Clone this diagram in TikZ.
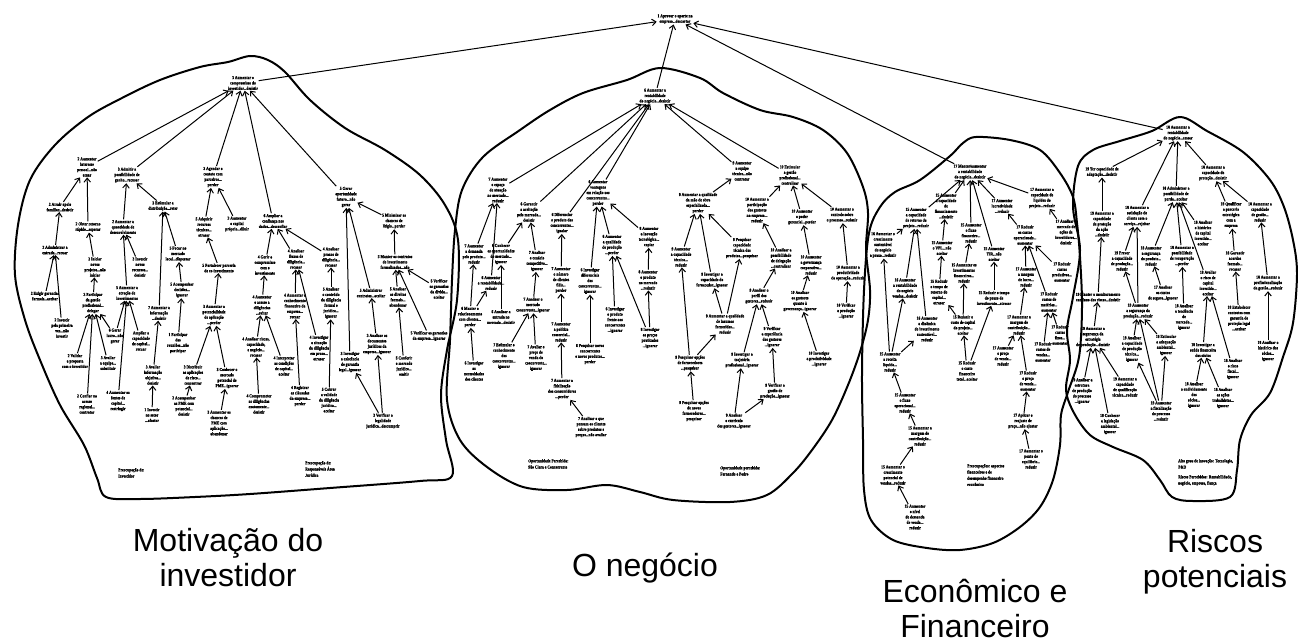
\documentclass[tikz,border=0pt]{standalone}
\usepackage{fontspec}
\setmainfont{Liberation Sans}
\newfontfamily\cptserif{Liberation Serif}[FakeStretch=0.82,FakeBold=1.2]
\usetikzlibrary{arrows.meta}
\tikzset{
  cpt/.style={font=\cptserif\bfseries\fontsize{4.5}{5.4}\selectfont, align=center, inner sep=0.6pt},
  note/.style={font=\cptserif\bfseries\fontsize{4.5}{6.2}\selectfont, align=left, inner sep=0pt, anchor=north west},
  lnk/.style={-{Straight Barb[length=4pt,width=6.5pt]}, line width=1pt},
  blob/.style={line width=2pt, line join=round},
  cat/.style={font=\fontsize{32}{35}\selectfont, align=center, inner sep=0pt, anchor=north}
}
\begin{document}
\begin{tikzpicture}[x=1pt,y=-1pt]
\useasboundingbox (0,0) rectangle (1298,639);
\fill[white] (0,0) rectangle (1298,639);

% ---------- cluster outlines ----------
\draw[blob] plot[smooth cycle, tension=0.55] coordinates {
 (250,56) (268,60) (285,72) (310,100) (345,128) (385,150) (420,175) (445,205) (458,240)
 (457,300) (447,350) (441,395) (446,440) (452,476) (420,481) (330,488) (250,494)
 (195,497) (140,499) (106,497) (97,478) (84,445) (60,405) (40,360) (25,320) (15,275)
 (18,225) (30,180) (55,145) (88,117) (122,98) (160,80) (200,67) (228,62)};
\draw[blob] plot[smooth cycle, tension=0.55] coordinates {
 (660,68) (700,78) (723,93) (760,110) (793,117) (823,130) (847,153) (863,187) (868,213)
 (866,250) (870,290) (868,320) (860,352) (848,385) (832,420) (812,450) (793,473)
 (767,495) (730,502) (673,500) (640,492) (607,485) (567,490) (523,487) (487,467)
 (460,440) (447,400) (450,340) (452,280) (455,230) (462,190) (483,157) (520,130)
 (550,110) (583,93) (627,80)};
\draw[blob] plot[smooth cycle, tension=0.55] coordinates {
 (976,137) (1010,140) (1040,150) (1060,173) (1073,197) (1077,223) (1080,257) (1082,307)
 (1079,357) (1068,392) (1061,415) (1060,445) (1053,480) (1040,507) (1020,527)
 (993,543) (960,550) (927,548) (893,540) (871,520) (864,490) (863,440) (862,373)
 (864,290) (869,233) (880,207) (895,192) (920,180) (950,156) (963,143)};
\draw[blob] plot[smooth cycle, tension=0.55] coordinates {
 (1180,117) (1207,131) (1243,152) (1270,180) (1284,207) (1293,240) (1297,273)
 (1293,323) (1283,357) (1270,393) (1251,415) (1240,440) (1237,470) (1230,497)
 (1193,501) (1172,497) (1160,480) (1143,460) (1113,447) (1090,435) (1074,413)
 (1066,390) (1070,360) (1067,330) (1073,297) (1080,250) (1073,207) (1078,166)
 (1093,150) (1120,141) (1152,131)};

% ---------- top concept ----------
\node[cpt] (top) at (675,19) {1 Aprovar o aporte na\\empresa...descartar};

% ---------- Motivação do investidor ----------
\node[cpt] (m0) at (243,83) {3 Aumentar o\\compromisso do\\investidor...desistir};
\node[cpt] (m2) at (87,167) {2 Aumentar\\interesse\\pessoal...não\\atuar};
\node[cpt] (m3) at (127,175) {3 Admitir a\\possibilidade de\\ganho...recusar};
\node[cpt] (m4) at (213,177) {3 Agendar o\\contato com\\parceiros...\\perder};
\node[cpt] (m6) at (273,221) {6 Ampliar a\\confiança nos\\dados...desconfiar};
\node[cpt] (m5) at (346,197) {5 Gerar\\oportunidade\\futura...não\\gerar};
\node[cpt] (m21) at (60,207) {2 Atrair apoio\\familiar...desistir};
\node[cpt] (m22) at (88,227) {2 Obter retorno\\rápido...esperar};
\node[cpt] (m23) at (55,250) {2 Administrar a\\entrada...recuar};
\node[cpt] (m24) at (45,296) {2 Exigir garantias\\formais...aceitar};
\node[cpt] (m25) at (62,328) {2 Investir\\pela primeira\\vez...não\\investir};
\node[cpt] (m26) at (95,267) {3 Iniciar\\novos\\projetos...não\\iniciar};
\node[cpt] (m27) at (93,303) {3 Participar\\da gestão\\profissional...\\delegar};
\node[cpt] (m28) at (75,361) {2 Validar\\a proposta\\com o investidor};
\node[cpt] (m29) at (108,363) {3 Avaliar\\a equipe...\\substituir};
\node[cpt] (m30) at (87,404) {2 Confiar no\\acesso\\regional...\\contratar};
\node[cpt] (m31) at (123,227) {2 Aumentar a\\quantidade de\\desenvolvimento};
\node[cpt] (m32) at (140,267) {3 Investir\\novos\\recursos...\\desistir};
\node[cpt] (m33) at (127,293) {5 Aumentar a\\atração de\\investimentos};
\node[cpt] (m34) at (115,336) {6 Gerar\\lucro...não\\gerar};
\node[cpt] (m35) at (141,341) {Ampliar a\\capacidade\\de capital...\\recuar};
\node[cpt] (m36) at (118,401) {4 Aumentar as\\fontes de\\capital...\\restringir};
\node[cpt] (m37) at (163,206) {3 Estimular a\\distribuição...reter};
\node[cpt] (m38) at (159,313) {7 Aumentar a\\informação\\...desistir};
\node[cpt] (m39) at (178,254) {5 Focar no\\mercado\\local...dispersar};
\node[cpt] (m40) at (182,290) {5 Acompanhar\\decisões...\\ignorar};
\node[cpt] (m41) at (178,343) {1 Participar\\das\\reuniões...não\\participar};
\node[cpt] (m42) at (153,375) {3 Avaliar\\informação\\objetiva...\\desistir};
\node[cpt] (m43) at (152,415) {1 Investir\\no setor\\...afastar};
\node[cpt] (m44) at (204,227) {5 Adquirir\\recursos\\técnicos...\\atrasar};
\node[cpt] (m45) at (237,224) {3 Aumentar\\o capital\\próprio...diluir};
\node[cpt] (m46) at (219,268) {5 Fortalecer parceria\\de co-investimento};
\node[cpt] (m47) at (214,315) {3 Aumentar a\\potencialidade\\de aplicação\\...perder};
\node[cpt] (m48) at (193,375) {3 Distribuir\\as aplicações\\de risco...\\concentrar};
\node[cpt] (m49) at (227,378) {3 Conhecer o\\mercado\\potencial de\\PME...ignorar};
\node[cpt] (m50) at (184,406) {2 Acompanhar\\as PME com\\potencial...\\desistir};
\node[cpt] (m51) at (219,423) {3 Aumentar as\\chances de\\PME com\\aplicação...\\abandonar};
\node[cpt] (m52) at (265,265) {4 Gerir o\\compromisso\\com o\\investimento};
\node[cpt] (m53) at (296,259) {4 Analisar\\fluxos de\\diligência...\\recusar};
\node[cpt] (m54) at (331,257) {4 Analisar\\prazos de\\diligência...\\recusar};
\node[cpt] (m55) at (262,305) {4 Aumentar\\o acesso a\\diligências\\...evitar};
\node[cpt] (m56) at (256,347) {4 Analisar riscos,\\capacidade,\\e negócio...\\recusar};
\node[cpt] (m57) at (284,366) {4 Interpretar\\as condições\\de capital...\\aceitar};
\node[cpt] (m58) at (259,404) {4 Comprometer\\as diligências\\exatamente...\\desistir};
\node[cpt] (m59) at (295,306) {4 Aumentar o\\conhecimento\\financeiro da\\empresa...\\recuar};
\node[cpt] (m60) at (300,396) {4 Registrar\\as cláusulas\\da empresa...\\perder};
\node[cpt] (m61) at (319,348) {4 Investigar\\a situação\\da diligência\\em prazo...\\atrasar};
\node[cpt] (m62) at (331,303) {5 Analisar\\o conteúdo\\da diligência\\formal e\\jurídica...\\ignorar};
\node[cpt] (m63) at (329,400) {5 Cobrar\\a validade\\da diligência\\jurídica...\\aceitar};
\node[cpt] (m64) at (394,221) {5 Minimizar as\\chances de\\litígio...perder};
\node[cpt] (m65) at (350,362) {3 Investigar\\a existência\\de garantia\\legal...ignorar};
\node[cpt] (m66) at (371,293) {5 Administrar\\contratos...aceitar};
\node[cpt] (m67) at (377,344) {3 Analisar os\\documentos\\jurídicos da\\empresa...ignorar};
\node[cpt] (m68) at (395,262) {5 Manter os contratos\\de investimento\\formalizados...não};
\node[cpt] (m69) at (398,297) {5 Analisar\\os direitos\\formais...\\abandonar};
\node[cpt] (m70) at (439,289) {5 Verificar\\as garantias\\da dívida...\\aceitar};
\node[cpt] (m71) at (404,366) {5 Conferir\\o mercado\\jurídico...\\omitir};
\node[cpt] (m72) at (429,336) {5 Verificar as garantias\\da empresa...ignorar};
\node[cpt] (m73) at (383,421) {3 Verificar a\\legalidade\\jurídica...descumprir};
\node[note] (ml1) at (118,468) {Preocupação de:\\Investidor};
\node[note] (ml2) at (305,461) {Preocupação de:\\Responsáveis Área\\Jurídica};

\draw[lnk] (m0) -- (top);
\foreach \c in {m2,m3,m4,m6,m5} \draw[lnk] (\c) -- (m0);
\draw[lnk] (m21) -- (m2);  \draw[lnk] (m22) -- (m2);
\draw[lnk] (m23) -- (m21); \draw[lnk] (m24) -- (m23); \draw[lnk] (m25) -- (m23);
\draw[lnk] (m26) -- (m22); \draw[lnk] (m27) -- (m26);
\draw[lnk] (m28) -- (m27); \draw[lnk] (m29) -- (m27); \draw[lnk] (m30) -- (m27);
\draw[lnk] (m31) -- (m3);  \draw[lnk] (m33) -- (m31); \draw[lnk] (m32) -- (m31);
\draw[lnk] (m34) -- (m33); \draw[lnk] (m34) -- (m27); \draw[lnk] (m35) -- (m33); \draw[lnk] (m36) -- (m33);
\draw[lnk] (m37) -- (m3);
\draw[lnk] (m38) -- (m37); \draw[lnk] (m39) -- (m37);
\draw[lnk] (m40) -- (m39); \draw[lnk] (m41) -- (m40);
\draw[lnk] (m42) -- (m38); \draw[lnk] (m43) -- (m42);
\draw[lnk] (m44) -- (m4);  \draw[lnk] (m45) -- (m4);
\draw[lnk] (m46) -- (m44); \draw[lnk] (m47) -- (m46);
\draw[lnk] (m48) -- (m47); \draw[lnk] (m49) -- (m47);
\draw[lnk] (m50) -- (m48); \draw[lnk] (m51) -- (m49);
\draw[lnk] (m52) -- (m6);  \draw[lnk] (m53) -- (m6); \draw[lnk] (m54) -- (m6);
\draw[lnk] (m55) -- (m52); \draw[lnk] (m56) -- (m55); \draw[lnk] (m57) -- (m55); \draw[lnk] (m58) -- (m56);
\draw[lnk] (m59) -- (m53); \draw[lnk] (m60) -- (m59); \draw[lnk] (m61) -- (m53);
\draw[lnk] (m62) -- (m54); \draw[lnk] (m63) -- (m62);
\draw[lnk] (m64) -- (m5);  \draw[lnk] (m66) -- (m5); \draw[lnk] (m65) -- (m5);
\draw[lnk] (m67) -- (m66);
\draw[lnk] (m68) -- (m64); \draw[lnk] (m69) -- (m68); \draw[lnk] (m70) -- (m68); \draw[lnk] (m72) -- (m68);
\draw[lnk] (m71) -- (m69);
\draw[lnk] (m73) -- (m65); \draw[lnk] (m73) -- (m67);

% ---------- O negócio ----------
\node[cpt] (n0) at (655,96) {6 Aumentar a\\rentabilidade\\do negócio...desistir};
\node[cpt] (n1) at (498,190) {7 Aumentar\\o espaço\\de atuação\\no mercado...\\reduzir};
\node[cpt] (n2) at (529,212) {6 Garantir\\a aceitação\\pelo mercado...\\desistir};
\node[cpt] (n3) at (562,223) {6 Diferenciar\\o produto dos\\concorrentes...\\igualar};
\node[cpt] (n4) at (598,193) {6 Aumentar\\vantagens\\em relação aos\\concorrentes...\\perder};
\node[cpt] (n5) at (742,171) {9 Aumentar\\a equipe\\técnica...não\\contratar};
\node[cpt] (n6) at (790,175) {10 Estimular\\a gestão\\profissional...\\centralizar};
\node[cpt] (n7) at (474,254) {7 Aumentar\\a demanda\\pelo produto...\\reduzir};
\node[cpt] (n8) at (491,283) {6 Aumentar\\a rentabilidade...\\reduzir};
\node[cpt] (n9) at (470,317) {6 Manter o\\relacionamento\\com clientes...\\perder};
\node[cpt] (n10) at (474,371) {6 Investigar\\as\\necessidades\\dos clientes};
\node[cpt] (n11) at (501,254) {6 Conhecer\\as oportunidades\\do mercado...\\ignorar};
\node[cpt] (n12) at (537,261) {7 Analisar\\o cenário\\competitivo...\\ignorar};
\node[cpt] (n13) at (501,317) {6 Analisar a\\entrada no\\mercado...desistir};
\node[cpt] (n14) at (533,305) {7 Analisar o\\mercado\\concorrente...ignorar};
\node[cpt] (n15) at (504,356) {7 Estimular o\\conhecimento\\dos\\concorrentes...\\ignorar};
\node[cpt] (n16) at (536,358) {7 Avaliar o\\preço de\\venda do\\concorrente...\\ignorar};
\node[cpt] (n17) at (561,280) {7 Aumentar\\o número\\de clientes\\fiéis...\\perder};
\node[cpt] (n18) at (561,332) {7 Aumentar\\a política\\comercial...\\reduzir};
\node[cpt] (n19) at (562,389) {7 Aumentar a\\fidelização\\dos consumidores\\...perder};
\node[cpt] (n20) at (591,427) {7 Analisar o que\\pensam os clientes\\sobre produtos e\\preços...não avaliar};
\node[cpt] (n21) at (590,281) {6 Investigar\\diferenciais\\dos\\concorrentes...\\ignorar};
\node[cpt] (n22) at (612,245) {6 Aumentar\\a qualidade\\de produção\\...perder};
\node[cpt] (n23) at (590,354) {6 Pesquisar novos\\concorrentes\\e novos produtos...\\perder};
\node[cpt] (n24) at (615,320) {6 Investigar\\o produto\\frente aos\\concorrentes\\...ignorar};
\node[cpt] (n25) at (650,338) {8 Investigar\\os preços\\praticados\\...ignorar};
\node[cpt] (n26) at (648,280) {8 Aumentar\\o produto\\no mercado\\...reduzir};
\node[cpt] (n27) at (649,237) {8 Aumentar\\a inovação\\tecnológica...\\copiar};
\node[cpt] (n28) at (698,203) {9 Aumentar a qualidade\\da mão de obra\\especializada...\\perder};
\node[cpt] (n29) at (681,257) {9 Aumentar\\a capacidade\\técnica...\\reduzir};
\node[cpt] (n30) at (712,280) {9 Investigar a\\capacidade do\\fornecedor...ignorar};
\node[cpt] (n31) at (742,248) {9 Pesquisar\\capacidade\\técnica dos\\produtos...pesquisar};
\node[cpt] (n32) at (690,363) {9 Pesquisar opções\\de fornecedores\\...pesquisar};
\node[cpt] (n33) at (725,324) {9 Aumentar a qualidade\\de insumos\\fornecidos...\\reduzir};
\node[cpt] (n34) at (694,411) {9 Pesquisar opções\\de novos\\fornecedores...\\pesquisar};
\node[cpt] (n35) at (757,210) {10 Aumentar a\\participação\\dos gestores\\na empresa...\\reduzir};
\node[cpt] (n36) at (802,217) {10 Aumentar\\o poder\\gerencial...perder};
\node[cpt] (n37) at (842,215) {10 Aumentar o\\controle sobre\\o processo...reduzir};
\node[cpt] (n38) at (781,258) {10 Analisar a\\possibilidade\\de delegação\\...centralizar};
\node[cpt] (n39) at (759,296) {9 Analisar o\\perfil dos\\gestores...reduzir};
\node[cpt] (n40) at (772,337) {9 Verificar\\a experiência\\dos gestores\\...ignorar};
\node[cpt] (n41) at (742,360) {9 Investigar a\\trajetória\\profissional...ignorar};
\node[cpt] (n42) at (734,421) {9 Analisar\\o currículo\\dos gestores...ignorar};
\node[cpt] (n43) at (775,391) {9 Verificar a\\gestão de\\produção...ignorar};
\node[cpt] (n44) at (811,265) {10 Aumentar\\a governança\\corporativa...\\reduzir};
\node[cpt] (n45) at (800,301) {10 Analisar\\os gestores\\quanto à\\governança...ignorar};
\node[cpt] (n46) at (819,359) {10 Investigar\\a produtividade\\...ignorar};
\node[cpt] (n47) at (848,273) {10 Aumentar a\\produtividade\\da operação...reduzir};
\node[cpt] (n48) at (846,311) {10 Verificar\\a produção\\...ignorar};
\node[note] (nl1) at (528,459) {Oportunidade Percebida:\\São Clara e Concorrente};
\node[note] (nl2) at (720,466) {Oportunidade percebida:\\Fernando e Pedro};

\draw[lnk] (n0) -- (top);
\foreach \c in {n1,n2,n3,n4,n5,n6} \draw[lnk] (\c) -- (n0);
\draw[lnk] (n7) -- (n1); \draw[lnk] (n8) -- (n1); \draw[lnk] (n9) -- (n7); \draw[lnk] (n9) -- (n8); \draw[lnk] (n10) -- (n9);
\draw[lnk] (n11) -- (n2); \draw[lnk] (n12) -- (n2); \draw[lnk] (n13) -- (n11); \draw[lnk] (n14) -- (n12);
\draw[lnk] (n15) -- (n14); \draw[lnk] (n16) -- (n14);
\draw[lnk] (n17) -- (n3); \draw[lnk] (n18) -- (n17); \draw[lnk] (n19) -- (n18); \draw[lnk] (n20) -- (n19);
\draw[lnk] (n21) -- (n4); \draw[lnk] (n22) -- (n4); \draw[lnk] (n23) -- (n21); \draw[lnk] (n24) -- (n22);
\draw[lnk] (n25) -- (n22); \draw[lnk] (n25) -- (n26); \draw[lnk] (n26) -- (n27); \draw[lnk] (n27) -- (n4);
\draw[lnk] (n28) -- (n5); \draw[lnk] (n29) -- (n28); \draw[lnk] (n30) -- (n28); \draw[lnk] (n31) -- (n28);
\draw[lnk] (n32) -- (n29); \draw[lnk] (n32) -- (n33); \draw[lnk] (n33) -- (n30); \draw[lnk] (n33) -- (n31); \draw[lnk] (n34) -- (n32);
\draw[lnk] (n35) -- (n6); \draw[lnk] (n36) -- (n6); \draw[lnk] (n37) -- (n6);
\draw[lnk] (n38) -- (n35); \draw[lnk] (n39) -- (n38); \draw[lnk] (n40) -- (n39); \draw[lnk] (n41) -- (n39);
\draw[lnk] (n42) -- (n41); \draw[lnk] (n42) -- (n43); \draw[lnk] (n43) -- (n40);
\draw[lnk] (n44) -- (n36); \draw[lnk] (n45) -- (n44); \draw[lnk] (n46) -- (n45);
\draw[lnk] (n47) -- (n37); \draw[lnk] (n48) -- (n47);

% ---------- Econômico e Financeiro ----------
\node[cpt] (e0) at (970,172) {17 Manter/aumentar\\a rentabilidade\\do negócio...desistir};
\node[cpt] (e1) at (916,218) {15 Aumentar\\a capacidade\\de retorno do\\projeto...reduzir};
\node[cpt] (e2) at (946,206) {15 Aumentar\\a capacidade\\de\\financiamento\\...desistir};
\node[cpt] (e3) at (971,233) {15 Aumentar\\o fluxo\\financeiro...\\reduzir};
\node[cpt] (e4) at (994,254) {15 Aumentar\\TIR...não\\aceitar};
\node[cpt] (e5) at (1002,206) {17 Aumentar\\lucratividade\\...reduzir};
\node[cpt] (e6) at (1042,198) {17 Aumentar a\\capacidade de\\liquidez do\\projeto...reduzir};
\node[cpt] (e7) at (1066,232) {17 Analisar o\\mercado de\\ações de\\investidores...\\desistir};
\node[cpt] (e8) at (883,245) {16 Aumentar o\\crescimento\\sustentável\\do negócio\\a prazo...reduzir};
\node[cpt] (e9) at (905,288) {16 Aumentar\\a rentabilidade\\do negócio\\vendas...desistir};
\node[cpt] (e10) at (927,329) {16 Aumentar\\a dinâmica\\de investimento\\sustentável...\\reduzir};
\node[cpt] (e11) at (890,362) {15 Aumentar\\a receita\\líquida...\\reduzir};
\node[cpt] (e12) at (905,403) {15 Aumentar\\o fluxo\\operacional...\\reduzir};
\node[cpt] (e13) at (920,436) {15 Aumentar a\\margem de\\contribuição...\\reduzir};
\node[cpt] (e14) at (893,475) {15 Aumentar o\\crescimento\\potencial de\\vendas...reduzir};
\node[cpt] (e15) at (915,517) {15 Aumentar\\o nível\\de demanda\\de venda...\\reduzir};
\node[cpt] (e16) at (942,248) {15 Aumentar\\o VPL...não\\aceitar};
\node[cpt] (e17) at (939,292) {15 Reduzir\\o tempo de\\retorno do\\capital...\\atrasar};
\node[cpt] (e18) at (964,273) {15 Aumentar os\\investimentos\\financeiros...\\reduzir};
\node[cpt] (e19) at (963,325) {15 Reduzir o\\custo de capital\\do projeto...\\aceitar};
\node[cpt] (e20) at (967,371) {15 Reduzir\\o custo\\financeiro\\total...aceitar};
\node[cpt] (e21) at (994,298) {15 Reduzir o tempo\\do prazo de\\investimento...atrasar};
\node[cpt] (e22) at (1025,235) {17 Reduzir\\os custos\\operacionais...\\aumentar};
\node[cpt] (e23) at (1026,277) {17 Aumentar\\a margem\\de lucro...\\reduzir};
\node[cpt] (e24) at (1062,272) {17 Reduzir\\custos\\produtivos...\\aumentar};
\node[cpt] (e25) at (1049,302) {17 Reduzir\\custos de\\matérias...\\aumentar};
\node[cpt] (e26) at (1043,352) {17 Reduzir\\custos de\\vendas...\\aumentar};
\node[cpt] (e27) at (1060,335) {17 Reduzir\\custos\\fixos...\\aumentar};
\node[cpt] (e28) at (1019,325) {17 Aumentar a\\margem de\\contribuição...\\reduzir};
\node[cpt] (e29) at (1003,356) {17 Aumentar\\o preço\\de venda...\\reduzir};
\node[cpt] (e30) at (1028,381) {17 Reduzir\\o preço\\de venda...\\aumentar};
\node[cpt] (e31) at (1023,421) {17 Aplicar o\\reajuste de\\preço...não ajustar};
\node[cpt] (e32) at (1031,459) {17 Aumentar o\\ponto de\\equilíbrio...\\reduzir};
\node[note] (el1) at (967,464) {Preocupações: aspectos\\financeiros e de\\desempenho financeiro\\econômico};

\draw[lnk] (e0) -- (top);
\foreach \c in {e1,e2,e3,e4,e5,e6} \draw[lnk] (\c) -- (e0);
\draw[lnk] (e7) -- (e6);
\draw[lnk] (e8) -- (e1); \draw[lnk] (e9) -- (e1); \draw[lnk] (e10) -- (e1);
\draw[lnk] (e11) -- (e8); \draw[lnk] (e11) -- (e9); \draw[lnk] (e11) -- (e10);
\draw[lnk] (e12) -- (e11); \draw[lnk] (e13) -- (e12); \draw[lnk] (e14) -- (e13); \draw[lnk] (e15) -- (e14);
\draw[lnk] (e16) -- (e2); \draw[lnk] (e17) -- (e16);
\draw[lnk] (e18) -- (e3); \draw[lnk] (e19) -- (e18); \draw[lnk] (e19) -- (e17);
\draw[lnk] (e20) -- (e19); \draw[lnk] (e20) -- (e21); \draw[lnk] (e21) -- (e4);
\draw[lnk] (e22) -- (e5); \draw[lnk] (e23) -- (e22); \draw[lnk] (e24) -- (e22); \draw[lnk] (e25) -- (e22);
\draw[lnk] (e26) -- (e25); \draw[lnk] (e27) -- (e25);
\draw[lnk] (e28) -- (e23); \draw[lnk] (e29) -- (e28); \draw[lnk] (e30) -- (e28);
\draw[lnk] (e31) -- (e30); \draw[lnk] (e32) -- (e31);

% ---------- Riscos potenciais ----------
\node[cpt] (r0) at (1178,133) {18 Aumentar a\\rentabilidade\\do negócio...cessar};
\node[cpt] (r1) at (1102,172) {19 Ter capacidade de\\adaptação...desistir};
\node[cpt] (r2) at (1137,216) {18 Aumentar a\\satisfação do\\cliente com o\\serviço...rejeitar};
\node[cpt] (r3) at (1176,194) {18 Administrar a\\possibilidade de\\perda...aceitar};
\node[cpt] (r4) at (1213,173) {18 Aumentar a\\capacidade de\\proteção...desistir};
\node[cpt] (r5) at (1102,224) {19 Aumentar a\\capacidade\\de proteção\\da ação\\...desistir};
\node[cpt] (r6) at (1098,297) {19 Manter o monitoramento\\contínuo dos riscos...desistir};
\node[cpt] (r7) at (1093,337) {19 Aumentar a\\segurança da\\estratégia\\de produção...desistir};
\node[cpt] (r8) at (1082,391) {19 Analisar a\\estrutura\\de produção\\do processo\\...ignorar};
\node[cpt] (r9) at (1125,387) {19 Aumentar a\\capacidade\\de qualificação\\técnica...reduzir};
\node[cpt] (r10) at (1110,424) {19 Conhecer\\a legislação\\ambiental...\\ignorar};
\node[cpt] (r11) at (1122,261) {19 Prever\\a capacidade\\de produção...\\reduzir};
\node[cpt] (r12) at (1138,311) {19 Aumentar\\a segurança da\\produção...reduzir};
\node[cpt] (r13) at (1132,349) {19 Analisar\\a capacidade\\de produção\\técnica...\\ignorar};
\node[cpt] (r14) at (1161,411) {19 Aumentar\\a fiscalização\\do processo\\...reduzir};
\node[cpt] (r15) at (1166,345) {19 Estimular\\a adequação\\ambiental...\\ignorar};
\node[cpt] (r16) at (1163,293) {17 Analisar\\os custos\\de seguro...ignorar};
\node[cpt] (r17) at (1151,256) {18 Aumentar\\a segurança\\do produto...\\reduzir};
\node[cpt] (r18) at (1182,256) {18 Aumentar a\\possibilidade\\de recuperação\\...perder};
\node[cpt] (r19) at (1208,283) {18 Avaliar\\o risco de\\capital\\investido...\\aceitar};
\node[cpt] (r20) at (1203,233) {18 Analisar\\o histórico\\de capital\\investido...\\aceitar};
\node[cpt] (r21) at (1184,317) {18 Analisar\\a tendência\\de\\mercado...\\ignorar};
\node[cpt] (r22) at (1203,350) {18 Investigar a\\saúde financeira\\dos sócios};
\node[cpt] (r23) at (1233,369) {18 Analisar\\o risco\\fiscal...\\ignorar};
\node[cpt] (r24) at (1194,395) {18 Analisar\\o endividamento\\dos\\sócios...\\ignorar};
\node[cpt] (r25) at (1223,398) {18 Analisar\\as ações\\trabalhistas...\\ignorar};
\node[cpt] (r26) at (1231,215) {18 Qualificar\\a parceria\\estratégica\\com a\\empresa};
\node[cpt] (r27) at (1260,212) {18 Aumentar a\\capacidade\\de gestão...\\reduzir};
\node[cpt] (r28) at (1235,261) {18 Garantir\\acordos\\formais...\\recusar};
\node[cpt] (r29) at (1239,318) {18 Estabelecer\\contratos com\\garantia de\\proteção legal\\...aceitar};
\node[cpt] (r30) at (1268,283) {18 Aumentar a\\profissionalização\\da gestão...reduzir};
\node[cpt] (r31) at (1268,351) {18 Analisar o\\histórico dos\\sócios...\\ignorar};
\node[note] (rl1) at (1178,459) {Alto grau de inovação: Tecnologia,\\P\&D};
\node[note] (rl2) at (1178,475) {Riscos Percebidos: Rentabilidade,\\negócio, empresa, fiança};

\draw[lnk] (r0) -- (top);
\foreach \c in {r1,r2,r3,r4} \draw[lnk] (\c) -- (r0);
\draw[lnk] (r5) -- (r1); \draw[lnk] (r6) -- (r5); \draw[lnk] (r7) -- (r6);
\draw[lnk] (r8) -- (r7); \draw[lnk] (r9) -- (r7); \draw[lnk] (r10) -- (r7);
\draw[lnk] (r11) -- (r2); \draw[lnk] (r12) -- (r2); \draw[lnk] (r12) -- (r11);
\draw[lnk] (r13) -- (r12); \draw[lnk] (r14) -- (r12); \draw[lnk] (r14) -- (r13); \draw[lnk] (r14) -- (r15);
\draw[lnk] (r15) -- (r12);
\draw[lnk] (r16) -- (r17); \draw[lnk] (r17) -- (r3); \draw[lnk] (r18) -- (r3); \draw[lnk] (r19) -- (r3); \draw[lnk] (r20) -- (r3);
\draw[lnk] (r21) -- (r18); \draw[lnk] (r22) -- (r19); \draw[lnk] (r23) -- (r19);
\draw[lnk] (r24) -- (r22); \draw[lnk] (r25) -- (r22);
\draw[lnk] (r26) -- (r4); \draw[lnk] (r27) -- (r4); \draw[lnk] (r28) -- (r26); \draw[lnk] (r29) -- (r28);
\draw[lnk] (r30) -- (r27); \draw[lnk] (r31) -- (r30);

% ---------- cluster titles ----------
\node[cat] (t1) at (228,528) {Motivação do\\investidor};
\node[cat] (t2) at (645,553) {O negócio};
\node[cat] (t3) at (975,579) {Econômico e\\Financeiro};
\node[cat] (t4) at (1215,529) {Riscos\\potenciais};
\end{tikzpicture}
\end{document}
